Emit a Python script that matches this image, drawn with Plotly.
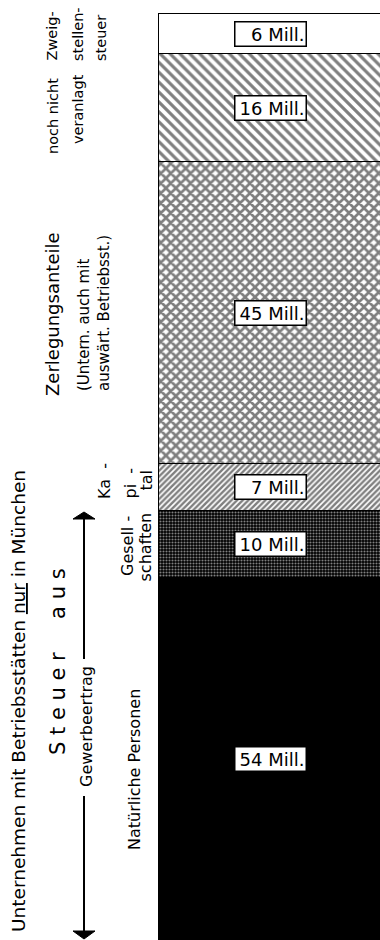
import plotly.graph_objects as go

W, H = 380, 940

# ---- data (bottom to top) ----
categories = ["Natürliche Personen", "Gesellschaften", "Kapital",
              "Zerlegungsanteile", "noch nicht veranlagt", "Zweigstellensteuer"]
values = [54, 10, 7, 45, 16, 6]          # Mill.
value_labels = [f"{v} Mill." for v in values]

# ---- styles ----
styles = [
    dict(color="black", pattern=dict(shape="")),
    dict(color="black", pattern=dict(shape=".", fgcolor="white", bgcolor="black", size=3, solidity=0.4)),
    dict(color="black", pattern=dict(shape="/", fgcolor="black", bgcolor="white", size=4, solidity=0.6)),
    dict(color="black", pattern=dict(shape="x", fgcolor="black", bgcolor="white", size=7, solidity=0.62)),
    dict(color="black", pattern=dict(shape="\\", fgcolor="black", bgcolor="white", size=7, solidity=0.45)),
    dict(color="white", pattern=dict(shape="")),
]

FONT = "DejaVu Sans"

fig = go.Figure()
for cat, v, st in zip(categories, values, styles):
    fig.add_trace(go.Bar(
        x=[0.51], y=[v], width=[1.02], name=cat, showlegend=False,
        marker=dict(color=st["color"], pattern=st["pattern"],
                    line=dict(color="black", width=1.5)),
        hovertemplate=cat + ": %{y} Mill.<extra></extra>",
    ))

# value labels in boxes at segment centres
cum = 0
for v, lab in zip(values, value_labels):
    fig.add_annotation(
        x=0.5, y=cum + v / 2, xref="x", yref="y", text=lab, showarrow=False,
        font=dict(family=FONT, size=18, color="black"),
        bgcolor="white", bordercolor="black", borderwidth=1.5, borderpad=1,
        width=68, align="right", xshift=1,
    )
    cum += v

def px(x):
    return x / W

def py(y):
    return 1 - y / H

def vtext(text, xc, ybottom, size=15):
    fig.add_annotation(
        x=px(xc), y=py(ybottom), xref="paper", yref="paper", text=text,
        showarrow=False, textangle=-90, xanchor="center", yanchor="bottom",
        font=dict(family=FONT, size=size, color="black"), align="left",
    )

def vtext_c(text, xc, yc, size=15):
    fig.add_annotation(
        x=px(xc), y=py(yc), xref="paper", yref="paper", text=text,
        showarrow=False, textangle=-90, xanchor="center", yanchor="middle",
        font=dict(family=FONT, size=size, color="black"),
    )

# left side texts
vtext("Unternehmen mit Betriebsstätten <u>nur</u> in München", 18, 934, 18.5)
vtext_c("S t e u e r &nbsp;&nbsp;&nbsp; a u s", 58, 662, 21)
vtext_c("Gewerbeertrag", 86, 727, 16)
vtext_c("Natürliche Personen", 134, 770, 16)
vtext("Gesell -", 127, 578, 16)
vtext("schaften", 145, 584, 16)
vtext("Ka &nbsp;-", 104, 501, 16)
vtext("pi &nbsp;-", 130, 501, 16)
vtext("tal", 146, 493, 16)
vtext("Zerlegungsanteile", 52, 398, 18)
vtext("(Untern. auch mit", 84, 393, 15)
vtext("auswärt. Betriebsst.)", 104, 393, 15)
vtext("noch nicht", 53, 156, 14.5)
vtext("veranlagt", 78, 146, 14.5)
vtext("Zweig-", 52, 63, 14.5)
vtext("stellen-", 78, 63, 14.5)
vtext("steuer", 101, 63, 14.5)

# double arrow with gap for "Gewerbeertrag"
ax = 84
shapes = [
    dict(type="line", xref="paper", yref="paper", x0=px(ax), x1=px(ax), y0=py(518), y1=py(659),
         line=dict(color="black", width=2)),
    dict(type="line", xref="paper", yref="paper", x0=px(ax), x1=px(ax), y0=py(796), y1=py(932),
         line=dict(color="black", width=2)),
    dict(type="path", xref="paper", yref="paper",
         path=f"M {px(73)},{py(519)} L {px(95)},{py(519)} L {px(ax)},{py(512)} Z",
         fillcolor="black", line=dict(color="black", width=1)),
    dict(type="path", xref="paper", yref="paper",
         path=f"M {px(73)},{py(931)} L {px(95)},{py(931)} L {px(ax)},{py(939)} Z",
         fillcolor="black", line=dict(color="black", width=1)),
]

total = sum(values)
top_px, bottom_px = 14, 940          # pixel rows of bar top / bottom
dom_top_px = 10
ymax = total * (bottom_px - dom_top_px) / (bottom_px - top_px)

fig.update_layout(
    width=W, height=H, barmode="stack", bargap=0,
    margin=dict(l=0, r=0, t=0, b=0),
    paper_bgcolor="white", plot_bgcolor="white",
    xaxis=dict(domain=[156 / W, 1], range=[-0.0135, 1], visible=False, fixedrange=True),
    yaxis=dict(domain=[0, 1 - dom_top_px / H], range=[0, ymax],
               visible=False, fixedrange=True),
    shapes=shapes,
)

fig.write_html("out.html", config={"displayModeBar": False},
               post_script="document.body.style.margin='0';document.body.style.overflow='hidden';")
